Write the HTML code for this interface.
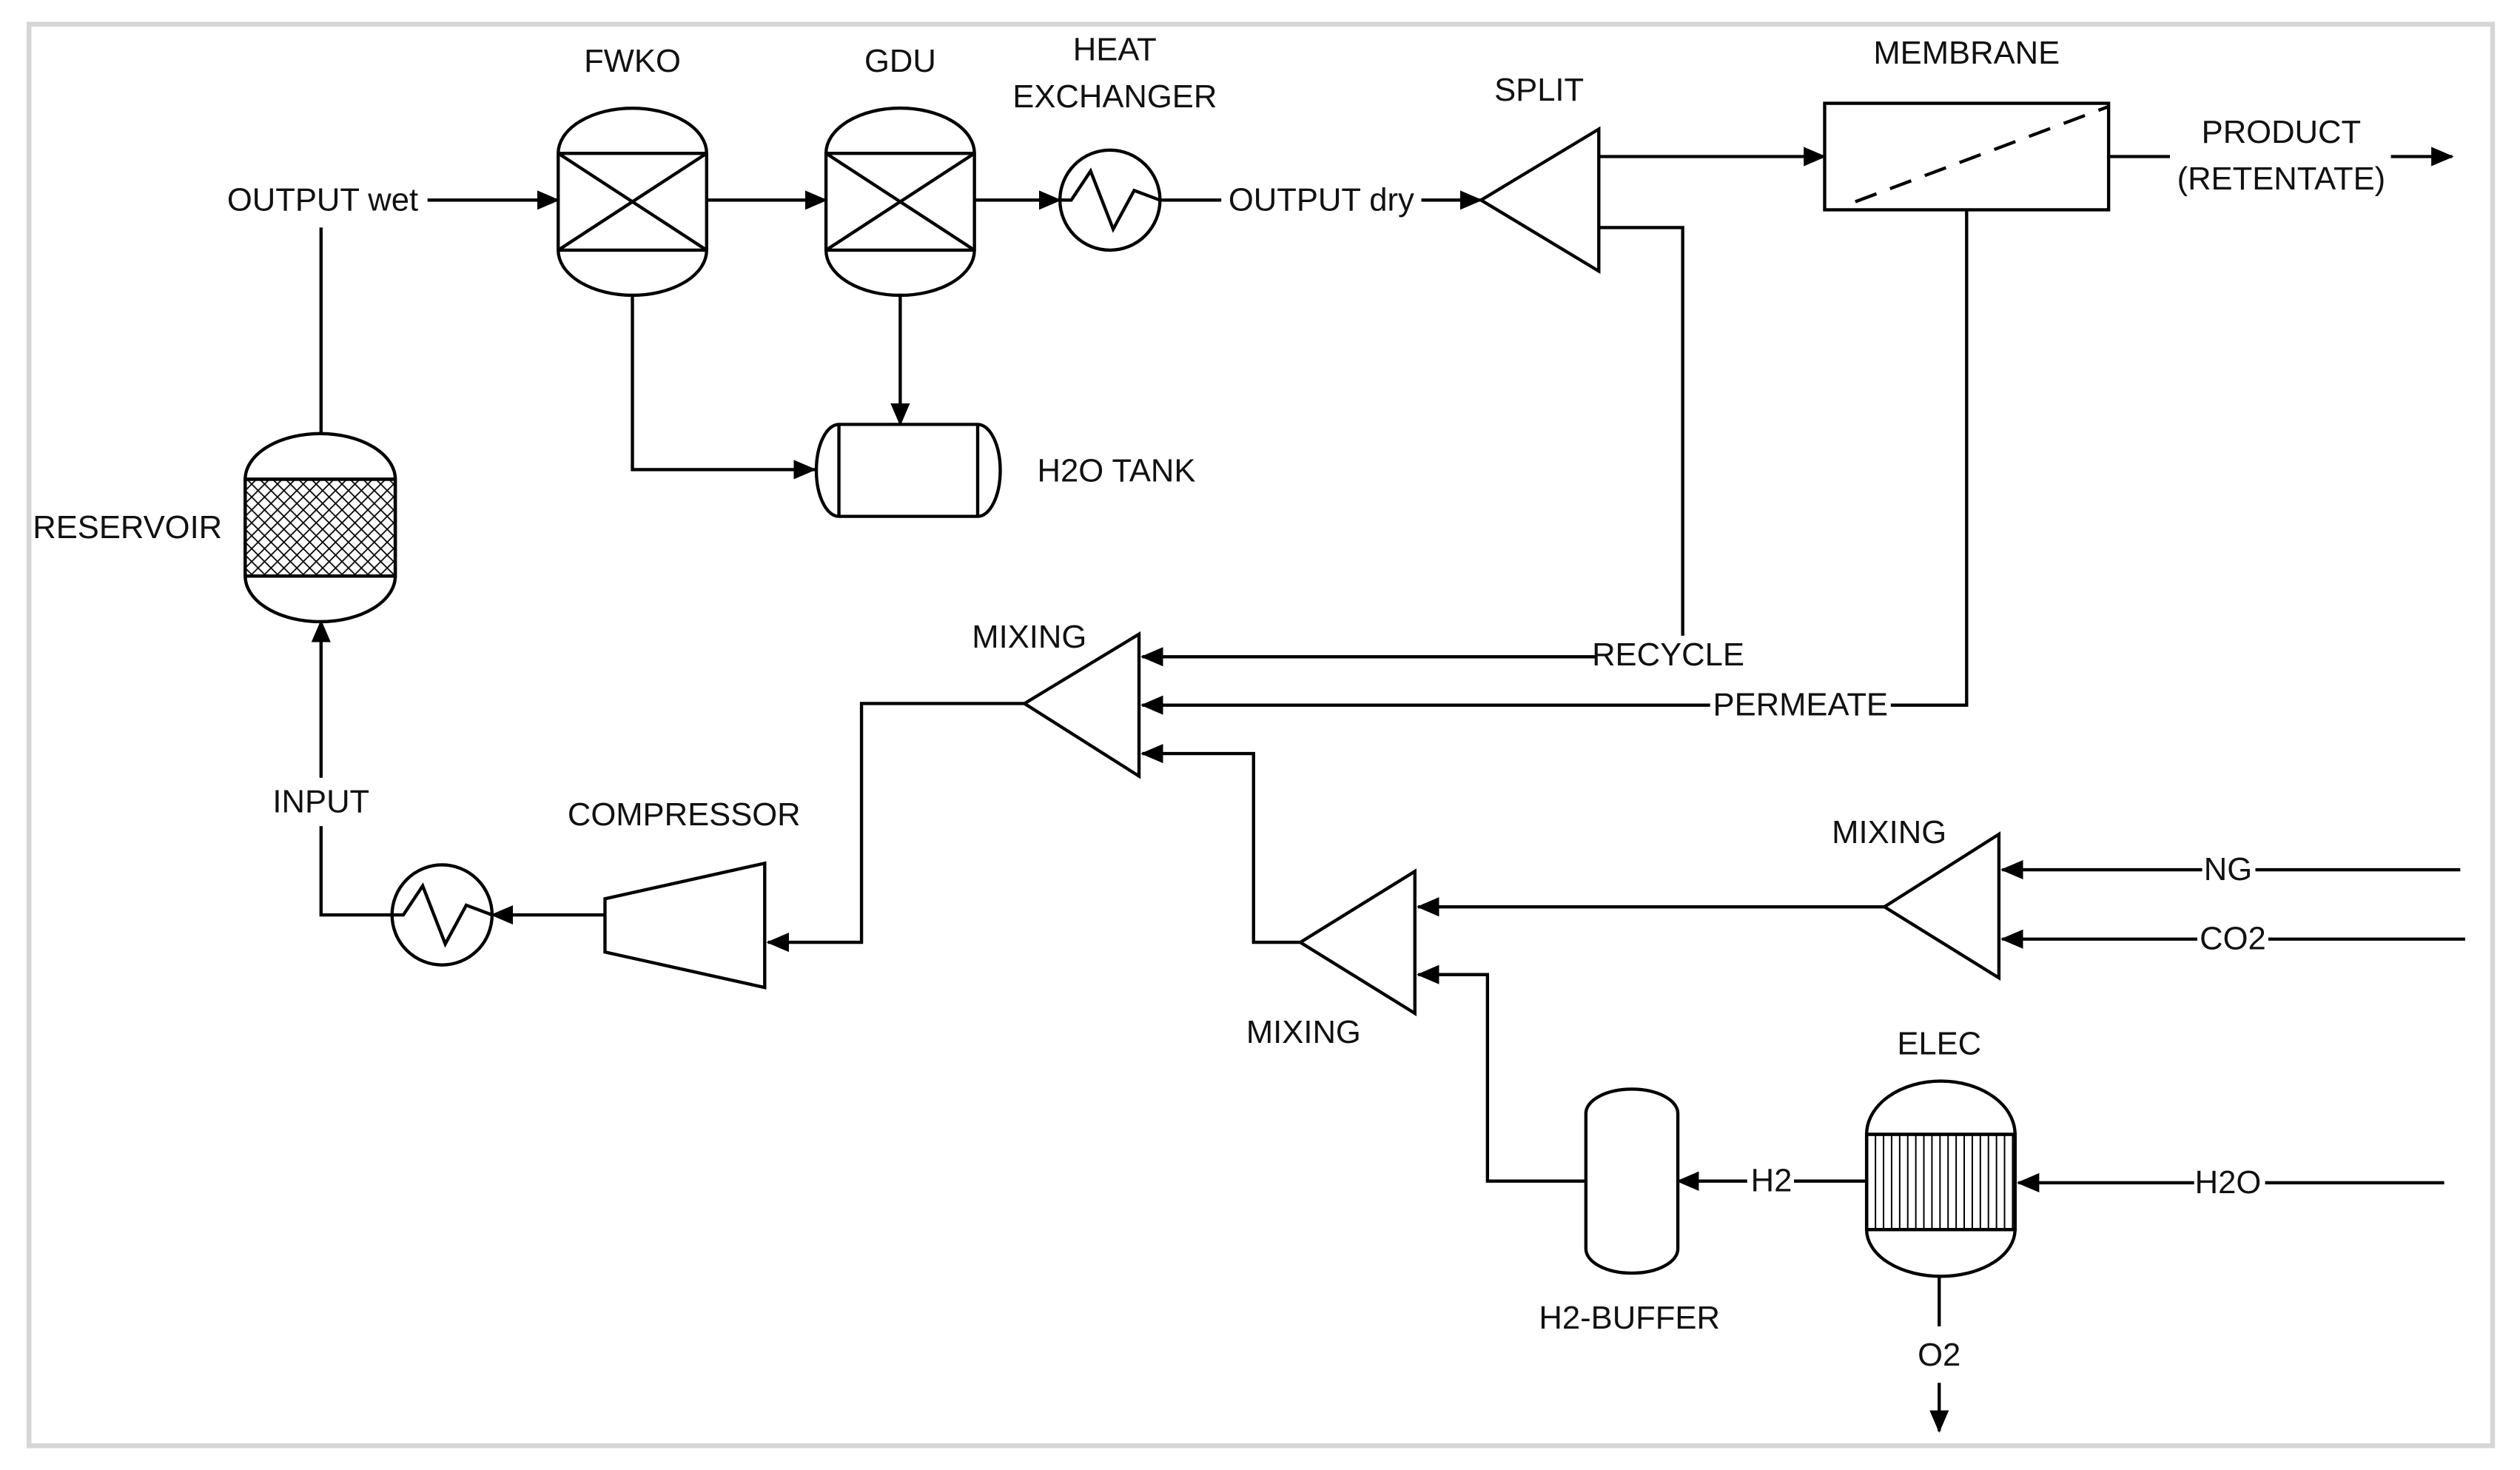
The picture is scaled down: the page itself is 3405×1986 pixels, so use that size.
<!DOCTYPE html>
<html><head><meta charset="utf-8"><style>
html,body{margin:0;padding:0;background:#fff;width:3405px;height:1986px;overflow:hidden}
svg{display:block}
text{font-family:"Liberation Sans",sans-serif;font-size:20px;fill:#111}
</style></head><body>
<svg width="3405" height="1986" viewBox="0 0 1562 911" xmlns="http://www.w3.org/2000/svg">
<defs>
<marker id="a" viewBox="0 0 14 12" refX="13" refY="6" markerWidth="14" markerHeight="12" markerUnits="userSpaceOnUse" orient="auto">
<path d="M0,0 L14,6 L0,12 z" fill="#000"/>
</marker>
<pattern id="x" width="8" height="8" patternUnits="userSpaceOnUse"><path d="M0,0L8,8M8,0L0,8" stroke="#000" stroke-width="0.8"/></pattern>
<pattern id="v" width="5" height="10" patternUnits="userSpaceOnUse"><path d="M2.5,0V10" stroke="#000" stroke-width="0.9"/></pattern>
</defs>
<rect x="18" y="15" width="1527" height="881" fill="#fff" stroke="#d6d6d6" stroke-width="3"/>
<g fill="none" stroke="#000" stroke-width="2">
<path d="M346,95 A46,28 0 0 1 438,95 V155 A46,28 0 0 1 346,155 Z" fill="#fff"/>
<path d="M346,95H438M346,155H438M346,95L438,155M438,95L346,155"/>
<path d="M512,95 A46,28 0 0 1 604,95 V155 A46,28 0 0 1 512,155 Z" fill="#fff"/>
<path d="M512,95H604M512,155H604M512,95L604,155M604,95L512,155"/>
<circle cx="688" cy="124" r="31"/>
<path d="M657,124H664L676,106L690,142L703,118L719,124"/>
<path d="M152,297 A46,28 0 0 1 245,297 V357 A46,28 0 0 1 152,357 Z" fill="#fff"/>
<rect x="152" y="297" width="93" height="60" fill="url(#x)"/>
<path d="M152,297H245M152,357H245"/>
<path d="M520,263H606A14,28.5 0 0 1 606,320H520A14,28.5 0 0 1 520,263Z"/>
<path d="M520,263V320M606,263V320"/>
<path d="M918,124L991,80V168Z"/>
<rect x="1131" y="64" width="176" height="66"/>
<path d="M1150,125L1307,66" stroke-dasharray="14,9"/>
<path d="M635,436L706,393V481Z"/>
<path d="M806,584L877,540V628Z"/>
<path d="M1168,562L1239,517V606Z"/>
<path d="M375,557L474,535V612L375,590Z"/>
<circle cx="274" cy="567" r="31"/>
<path d="M243,567H250L262,549L276,585L289,561L305,567"/>
<path d="M983,690A28.5,15 0 0 1 1040,690V774A28.5,15 0 0 1 983,774Z"/>
<path d="M1157,703 A46,33 0 0 1 1249,703 V762 A46,29 0 0 1 1157,762 Z" fill="#fff"/>
<rect x="1157" y="703" width="92" height="59" fill="url(#v)"/>
<path d="M1157,703H1249M1157,762H1249"/>
<path d="M265,124H346" marker-end="url(#a)"/>
<path d="M438,124H512" marker-end="url(#a)"/>
<path d="M604,124H657" marker-end="url(#a)"/>
<path d="M719,124H757"/>
<path d="M881,124H918" marker-end="url(#a)"/>
<path d="M991,97H1131" marker-end="url(#a)"/>
<path d="M1307,97H1345"/>
<path d="M1482,97H1520" marker-end="url(#a)"/>
<path d="M392,182V291H505" marker-end="url(#a)"/>
<path d="M558,182V263" marker-end="url(#a)"/>
<path d="M199,268V141"/>
<path d="M991,141H1043V394"/>
<path d="M989,407H708" marker-end="url(#a)"/>
<path d="M1219,130V437H1172"/>
<path d="M1060,437H708" marker-end="url(#a)"/>
<path d="M806,584H777V467H708" marker-end="url(#a)"/>
<path d="M1168,562H879" marker-end="url(#a)"/>
<path d="M983,732H922V604H879" marker-end="url(#a)"/>
<path d="M1525,539H1398"/>
<path d="M1365,539H1241" marker-end="url(#a)"/>
<path d="M1528,582H1406"/>
<path d="M1362,582H1241" marker-end="url(#a)"/>
<path d="M1157,732H1112"/>
<path d="M1083,732H1040" marker-end="url(#a)"/>
<path d="M1515,733H1404"/>
<path d="M1360,733H1251" marker-end="url(#a)"/>
<path d="M1202,791V822"/>
<path d="M1202,857V887" marker-end="url(#a)"/>
<path d="M635,436H534V584H476" marker-end="url(#a)"/>
<path d="M375,567H305" marker-end="url(#a)"/>
<path d="M243,567H199V512"/>
<path d="M199,482V385" marker-end="url(#a)"/>
</g>
<g text-anchor="middle" dominant-baseline="central">
<text x="200" y="124">OUTPUT wet</text>
<text x="392" y="38">FWKO</text>
<text x="558" y="38">GDU</text>
<text x="691" y="31">HEAT</text>
<text x="691" y="60">EXCHANGER</text>
<text x="819" y="124">OUTPUT dry</text>
<text x="954" y="56">SPLIT</text>
<text x="1219" y="33">MEMBRANE</text>
<text x="1414" y="82">PRODUCT</text>
<text x="1414" y="111">(RETENTATE)</text>
<text x="692" y="292">H2O TANK</text>
<text x="79" y="327">RESERVOIR</text>
<text x="1034" y="406">RECYCLE</text>
<text x="1116" y="437">PERMEATE</text>
<text x="638" y="395">MIXING</text>
<text x="808" y="640">MIXING</text>
<text x="1171" y="516">MIXING</text>
<text x="199" y="497">INPUT</text>
<text x="424" y="505">COMPRESSOR</text>
<text x="1381" y="539">NG</text>
<text x="1384" y="582">CO2</text>
<text x="1202" y="647">ELEC</text>
<text x="1098" y="732">H2</text>
<text x="1381" y="733">H2O</text>
<text x="1010" y="817">H2-BUFFER</text>
<text x="1202" y="840">O2</text>
</g>
</svg>
</body></html>
